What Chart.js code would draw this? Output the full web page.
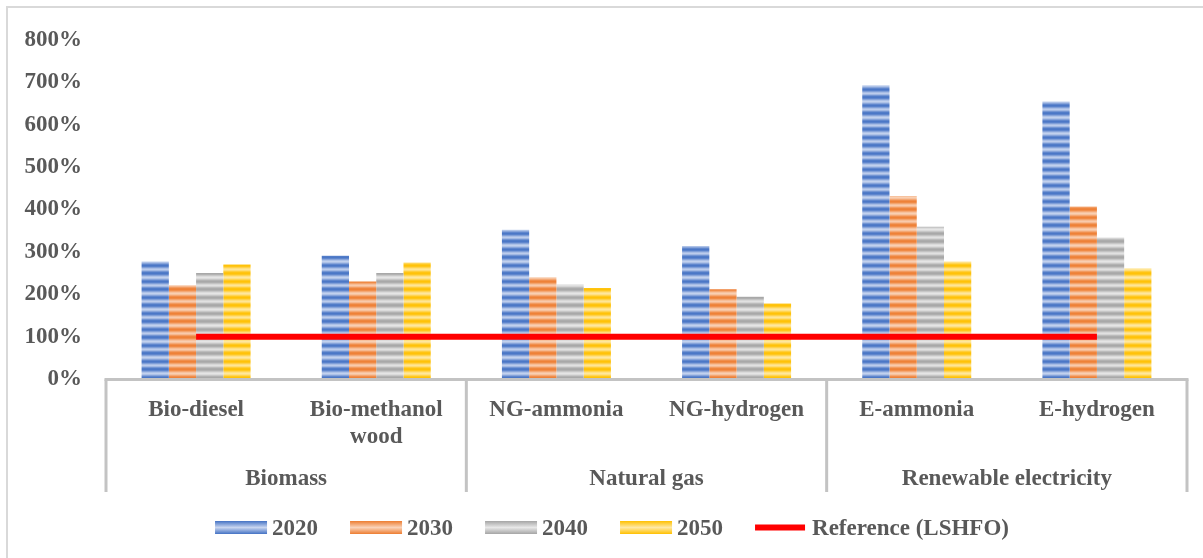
<!DOCTYPE html>
<html>
<head>
<meta charset="utf-8">
<script src="https://cdn.jsdelivr.net/npm/chart.js@4.4.1/dist/chart.umd.min.js"></script>
<style>
  html, body { margin: 0; padding: 0; background: #ffffff; }
  #wrap { width: 1203px; height: 558px; position: relative; }
</style>
</head>
<body>
<div id="wrap"><canvas id="c" width="1203" height="558"></canvas></div>
<script>
// Fuel pathways (lower axis level) and their feedstock groups (upper axis level)
const categories = ['Bio-diesel', ['Bio-methanol', 'wood'], 'NG-ammonia', 'NG-hydrogen', 'E-ammonia', 'E-hydrogen'];
const groups = ['Biomass', 'Natural gas', 'Renewable electricity'];
const groupSpans = [2, 2, 2];

// Cost relative to LSHFO, in percent
const years = ['2020', '2030', '2040', '2050'];
const v2020 = [277, 291, 352, 314, 693, 655];
const v2030 = [221, 230, 240, 212, 432, 407];
const v2040 = [250, 250, 223, 194, 359, 334];
const v2050 = [270, 275, 215, 178, 277, 261];
const referenceLabel = 'Reference (LSHFO)';
const referenceLSHFO = [100, 100, 100, 100, 100, 100];

const yMin = 0, yMax = 800, yStep = 100;

const FONT = "'Liberation Serif', 'Times New Roman', serif";
const FSIZE = 23;
const TEXT = '#595959';
const AXIS = '#c3c3c3';

// Banded fill that mimics a glossy horizontal-stripe texture
const bandShape = [0.1, 0.05, 0.2, 0.5, 0.8, 0.95, 0.8, 0.5, 0.2, 0.05, 0.15, 0.45, 0.75, 0.9, 0.7, 0.35];
function hexToRgb(h) { const n = parseInt(h.slice(1), 16); return [(n >> 16) & 255, (n >> 8) & 255, n & 255]; }
function mix(a, b, t) {
  const A = hexToRgb(a), B = hexToRgb(b);
  return 'rgb(' + A.map((v, i) => Math.round(v + (B[i] - v) * t)).join(',') + ')';
}
function stripes(base, light) {
  const off = document.createElement('canvas');
  off.width = 4; off.height = bandShape.length;
  const g = off.getContext('2d');
  bandShape.forEach((t, i) => { g.fillStyle = mix(base, light, t); g.fillRect(0, i, 4, 1); });
  return g.createPattern(off, 'repeat');
}
const palette = [
  ['#4472C4', '#C9D6F0'],
  ['#ED7D31', '#FAD3B9'],
  ['#A5A5A5', '#E8E8E8'],
  ['#FFC000', '#FFE9A6']
];
const seriesValues = [v2020, v2030, v2040, v2050];

const barSets = years.map((y, i) => ({
  type: 'bar',
  label: y,
  data: seriesValues[i],
  backgroundColor: stripes(palette[i][0], palette[i][1]),
  borderWidth: 0,
  categoryPercentage: 0.605,
  barPercentage: 1.0,
  order: 2
}));

const refSet = {
  type: 'line',
  label: referenceLabel,
  data: referenceLSHFO,
  borderColor: '#FF0000',
  borderWidth: 6,
  pointRadius: 0,
  pointHoverRadius: 0,
  borderCapStyle: 'butt',
  fill: false,
  tension: 0,
  order: 1
};

// Two-level category axis, frame and legend
const decorations = {
  id: 'decorations',
  afterDatasetsDraw(chart) {
    const ctx = chart.ctx;
    const xs = chart.scales.x;
    const area = chart.chartArea;
    const n = categories.length;
    const step = (area.right - area.left) / n;
    const axisY = area.bottom + 0.5;
    const boxBottom = 492;

    ctx.save();
    // chart frame (left and top edges)
    ctx.strokeStyle = '#d9d9d9';
    ctx.lineWidth = 2;
    ctx.beginPath();
    ctx.moveTo(7, 600); ctx.lineTo(7, 7); ctx.lineTo(1210, 7);
    ctx.stroke();

    // baseline and group separators
    ctx.strokeStyle = AXIS;
    ctx.lineWidth = 3;
    ctx.beginPath();
    ctx.moveTo(area.left - 1.5, axisY);
    ctx.lineTo(area.right + 1.5, axisY);
    ctx.stroke();
    let idx = 0;
    const bounds = [0];
    groupSpans.forEach(s => { idx += s; bounds.push(idx); });
    ctx.beginPath();
    bounds.forEach(b => {
      const x = area.left + b * step;
      ctx.moveTo(x, axisY);
      ctx.lineTo(x, boxBottom);
    });
    ctx.stroke();

    // category labels
    ctx.fillStyle = TEXT;
    ctx.font = 'bold ' + FSIZE + 'px ' + FONT;
    ctx.textAlign = 'center';
    ctx.textBaseline = 'alphabetic';
    categories.forEach((lab, i) => {
      const x = xs.getPixelForValue(i);
      const lines = Array.isArray(lab) ? lab : [lab];
      lines.forEach((t, k) => ctx.fillText(t, x, 416 + k * 27));
    });
    // group labels
    groups.forEach((g, gi) => {
      const x = area.left + ((bounds[gi] + bounds[gi + 1]) / 2) * step;
      ctx.fillText(g, x, 485);
    });

    // legend
    const boxW = 52, gapText = 5, gapItem = 32;
    const items = chart.data.datasets.map((d, i) => ({ label: d.label, i }));
    let total = 0;
    items.forEach((it, k) => {
      it.w = ctx.measureText(it.label).width;
      total += boxW + gapText + it.w + (k < items.length - 1 ? gapItem : 0);
    });
    let x = 612 - total / 2;
    const cy = 527.5;
    items.forEach(it => {
      const ds = chart.data.datasets[it.i];
      if (ds.type === 'line') {
        ctx.fillStyle = ds.borderColor;
        ctx.fillRect(x, cy - 3, boxW - 2, 6);
      } else {
        const p = palette[it.i];
        const gr = ctx.createLinearGradient(0, cy - 6.5, 0, cy + 6.5);
        gr.addColorStop(0, p[0]);
        gr.addColorStop(0.5, p[1]);
        gr.addColorStop(1, p[0]);
        ctx.fillStyle = gr;
        ctx.fillRect(x, cy - 6.5, boxW, 13);
      }
      ctx.fillStyle = TEXT;
      ctx.textAlign = 'left';
      ctx.fillText(it.label, x + boxW + gapText, 535);
      x += boxW + gapText + it.w + gapItem;
    });
    ctx.restore();
  }
};

new Chart(document.getElementById('c'), {
  data: {
    labels: categories,
    datasets: [...barSets, refSet]
  },
  options: {
    responsive: false,
    animation: false,
    events: [],
    layout: { padding: { top: 40, right: 16, bottom: 179, left: 0 } },
    plugins: {
      legend: { display: false },
      tooltip: { enabled: false }
    },
    scales: {
      x: {
        type: 'category',
        display: false,
        offset: true,
        grid: { display: false }
      },
      y: {
        min: yMin,
        max: yMax,
        border: { display: false },
        grid: { display: false, drawTicks: false },
        afterFit(scale) { scale.width = 106; },
        ticks: {
          stepSize: yStep,
          padding: 24,
          color: TEXT,
          font: { family: FONT, size: FSIZE, weight: 'bold' },
          callback: v => v + '%'
        }
      }
    }
  },
  plugins: [decorations]
});
</script>
</body>
</html>
